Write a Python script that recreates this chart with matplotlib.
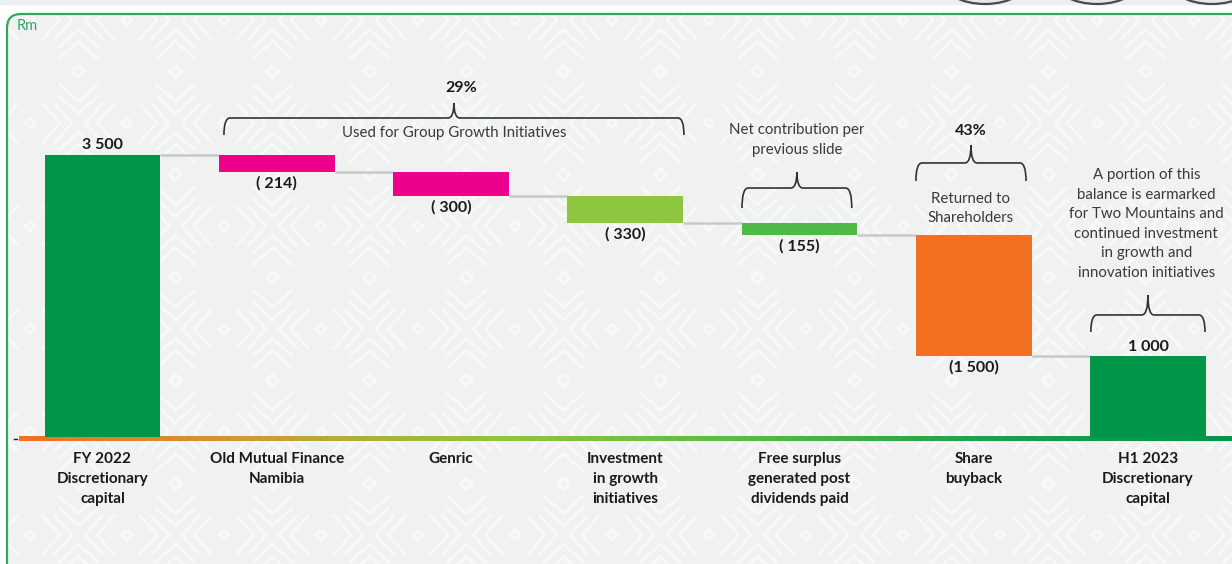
import numpy as np
import matplotlib.pyplot as plt
from matplotlib.colors import LinearSegmentedColormap
from matplotlib.patches import FancyBboxPatch, Rectangle, Ellipse, PathPatch
from matplotlib.path import Path
from matplotlib.collections import LineCollection

plt.rcParams['font.family'] = ['Lato', 'DejaVu Sans']

categories = ["FY 2022\nDiscretionary\ncapital", "Old Mutual Finance\nNamibia", "Genric",
              "Investment\nin growth\ninitiatives", "Free surplus\ngenerated post\ndividends paid",
              "Share\nbuyback", "H1 2023\nDiscretionary\ncapital"]
values = [3500, -214, -300, -330, -155, -1500, 1000]
value_labels = ["3 500", "( 214)", "( 300)", "( 330)", "( 155)", "(1 500)", "1 000"]
is_total = [True, False, False, False, False, False, True]
bar_colors = ["#00964a", "#ec008c", "#ec008c", "#8dc63f", "#50b848", "#f37021", "#00964a"]

fig = plt.figure(figsize=(12.32, 5.64), dpi=100)
fig.patch.set_facecolor("white")

# slide frame drawn in pixel units
bg = fig.add_axes([0, 0, 1, 1])
bg.set_xlim(0, 1232)
bg.set_ylim(564, 0)
bg.axis("off")
bg.add_patch(Rectangle((0, 0), 1232, 4, color="#eceef0", zorder=0))
for cx in [985, 1097, 1212]:
    e = Ellipse((cx, -22), 90, 52, facecolor="#e4e6e8", edgecolor="#4a4a4a", lw=1.6, zorder=1)
    e.set_clip_path(Rectangle((0, 0), 1232, 4, transform=bg.transData))
    bg.add_patch(e)
panel = FancyBboxPatch((7, 14), 1260, 600, boxstyle="round,pad=0,rounding_size=14",
                       facecolor="#f0f1f1", edgecolor="none", zorder=1)
bg.add_patch(panel)

# faint white chevron texture inside the panel
segs = []
dx, dy = 97, 103
for row in range(-1, 7):
    for col in range(-1, 14):
        cx, cy = 30 + col * dx, 20 + row * dy
        for s in (1, -1):
            for off in (12, 24):
                segs.append([(cx + s * off, cy - 20), (cx + s * (off + 18), cy), (cx + s * off, cy + 20)])
        ox, oy = cx + dx / 2, cy + dy / 2
        for s in (1, -1):
            for off in (12, 24):
                segs.append([(ox - 20, oy + s * off), (ox, oy + s * (off + 18)), (ox + 20, oy + s * off)])
        segs.append([(ox, oy - 6), (ox + 6, oy), (ox, oy + 6), (ox - 6, oy), (ox, oy - 6)])
        segs.append([(cx, cy - 5), (cx + 5, cy), (cx, cy + 5), (cx - 5, cy), (cx, cy - 5)])
tex = LineCollection(segs, colors="white", linewidths=2.2, alpha=0.55, zorder=1.5)
bg.add_collection(tex)
tex.set_clip_path(panel)
bg.add_patch(FancyBboxPatch((7, 14), 1260, 600, boxstyle="round,pad=0,rounding_size=14",
                            fill=False, edgecolor="#2ea85a", lw=1.6, zorder=1.8))
bg.text(17, 26, "Rm", color="#2ea85a", fontsize=10.5, va="center", ha="left", zorder=2)

# waterfall
ax = fig.add_axes([0, 0, 1, 1])
ax.patch.set_alpha(0)
ax.axis("off")

width = 0.665
x = np.arange(len(values))
running = 0
bottoms, heights = [], []
for v, tot in zip(values, is_total):
    if tot:
        bottoms.append(0)
        heights.append(v)
        running = v
    else:
        bottoms.append(running + v)
        heights.append(-v)
        running += v
bottoms = np.array(bottoms)
heights = np.array(heights)
tops = bottoms + heights

ax.bar(x, heights, bottom=bottoms, width=width, color=bar_colors, zorder=3)

# connectors between consecutive bars
levels = [tops[0]] + [bottoms[i] for i in range(1, len(values) - 1)]
for i, lv in enumerate(levels):
    ax.plot([i + width / 2, i + 1 - width / 2], [lv, lv], color="#c9c9c9", lw=1.8, zorder=2,
            solid_capstyle="butt")

# value labels
for i in range(len(values)):
    if values[i] > 0:
        ax.annotate(value_labels[i], (x[i], tops[i]), xytext=(0, 2), textcoords="offset points",
                    ha="center", va="bottom", fontsize=11.5, fontweight="bold", color="#1a1a1a", zorder=4)
    else:
        ax.annotate(value_labels[i], (x[i], bottoms[i]), xytext=(0, -3), textcoords="offset points",
                    ha="center", va="top", fontsize=11.5, fontweight="bold", color="#1a1a1a", zorder=4)

# category labels
for i, lab in enumerate(categories):
    ax.annotate(lab, (x[i], 0), xytext=(0, -11), textcoords="offset points", ha="center", va="top",
                fontsize=11, fontweight="bold", color="#1a1a1a", linespacing=1.52)

# gradient axis line
grad_cmap = LinearSegmentedColormap.from_list(
    "axisgrad", ["#f37021", "#c9a030", "#8dc63f", "#5ab848", "#1e9f4c", "#00964a"])
grad = np.linspace(0, 1, 256).reshape(1, -1)
x_left = -0.479
x_right = 6.5
ax.imshow(grad, cmap=grad_cmap, extent=[x_left, x_right, -55, 5], aspect="auto",
          interpolation="bilinear", zorder=2)
ax.plot([-0.51, -0.49], [-20, -20], color="#222222", lw=1.0)


def brace(x0, x1, y_end, y_mid, y_tip, rx=0.035):
    xc = (x0 + x1) / 2
    verts = [(x0, y_end), (x0, y_mid), (x0 + rx, y_mid),
             (xc - rx, y_mid), (xc, y_mid), (xc, y_tip),
             (xc, y_mid), (xc + rx, y_mid),
             (x1 - rx, y_mid), (x1, y_mid), (x1, y_end)]
    codes = [Path.MOVETO, Path.CURVE3, Path.CURVE3,
             Path.LINETO, Path.CURVE3, Path.CURVE3,
             Path.CURVE3, Path.CURVE3,
             Path.LINETO, Path.CURVE3, Path.CURVE3]
    ax.add_patch(PathPatch(Path(verts, codes), fill=False, edgecolor="#333333", lw=1.2, zorder=4))


note_kw = dict(ha="center", va="center", fontsize=10.8, color="#3a3a3a", linespacing=1.5)

brace(0.697, 3.337, 3747, 3958, 4144)
ax.text(2.06, 4330, "29%", ha="center", va="center", fontsize=11.5, fontweight="bold", color="#1a1a1a")
ax.text(2.02, 3772, "Used for Group Growth Initiatives", **note_kw)

brace(3.67, 4.30, 2841, 3089, 3288)
ax.text(3.985, 3685, "Net contribution per\nprevious slide", **note_kw)

brace(4.668, 5.30, 3176, 3400, 3623)
ax.text(4.98, 3797, "43%", ha="center", va="center", fontsize=11.5, fontweight="bold", color="#1a1a1a")
ax.text(4.98, 2835, "Returned to\nShareholders", **note_kw)

brace(5.672, 6.327, 1303, 1514, 1762)
ax.text(5.99, 2643, "A portion of this\nbalance is earmarked\nfor Two Mountains and\ncontinued investment\n"
        "in growth and\ninnovation initiatives", **note_kw)

ax.set_xlim(-0.588, 6.482)
ax.set_ylim(-1576, 5422)

fig.savefig("out.png", dpi=100)
